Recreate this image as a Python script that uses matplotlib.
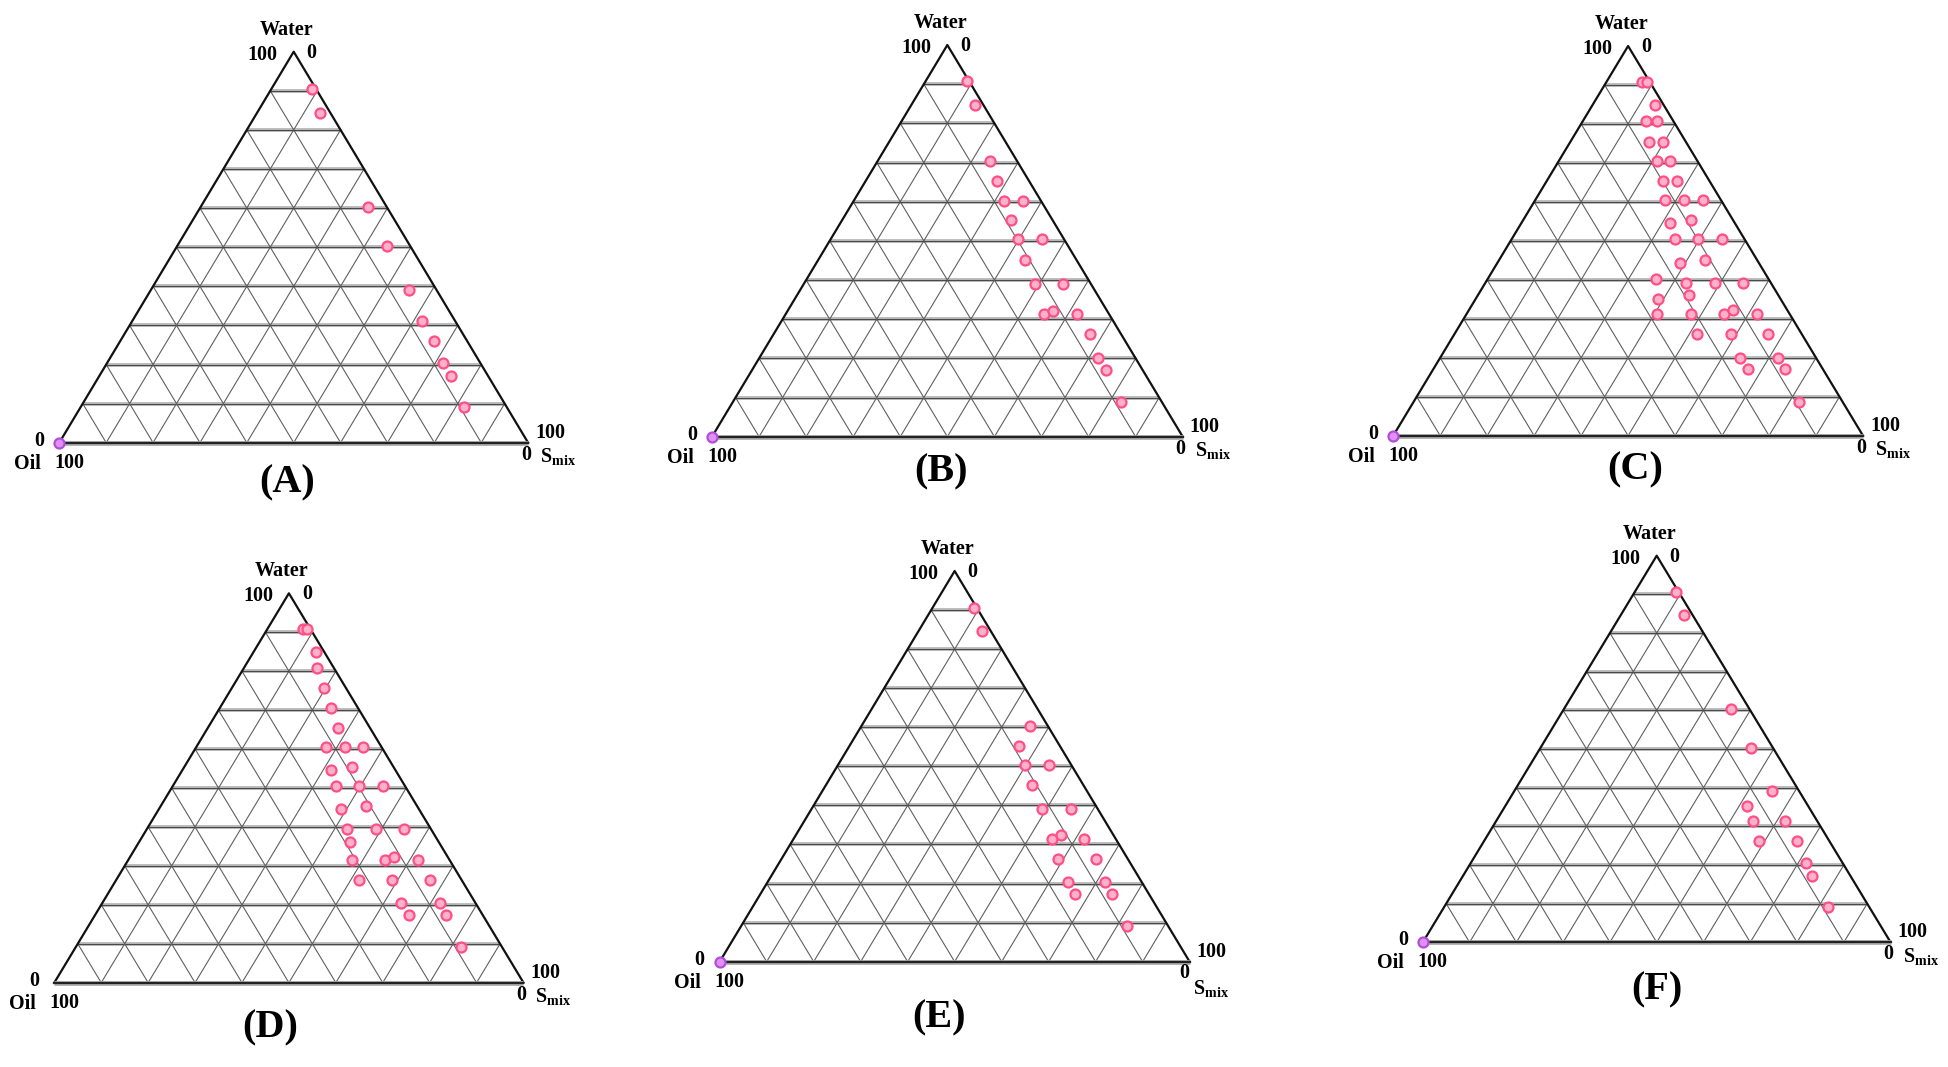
import numpy as np
import matplotlib.pyplot as plt

plt.rcParams['font.family'] = ['Liberation Serif', 'DejaVu Serif']
plt.rcParams['mathtext.fontset'] = 'custom'
plt.rcParams['mathtext.rm'] = 'Liberation Serif:bold'
plt.rcParams['mathtext.bf'] = 'Liberation Serif:bold'
plt.rcParams['mathtext.it'] = 'Liberation Serif:bold'

panel_names = ['(A)', '(B)', '(C)', '(D)', '(E)', '(F)']

# composition of each point in %, oil = 100 - water - smix
water_A = [90.4, 84.4, 60.4, 50.3, 39.0, 31.2, 26.1, 20.3, 17.1, 9.2]
smix_A = [8.7, 13.5, 35.7, 44.8, 55.0, 61.8, 66.8, 71.7, 74.9, 81.8]

water_B = [90.8, 84.6, 70.4, 65.4, 60.3, 60.3, 55.2, 50.4, 50.4, 45.2,
           39.1, 39.1, 31.2, 32.1, 31.2, 26.1, 20.0, 17.0, 8.8]
smix_B = [8.8, 13.6, 23.8, 27.9, 31.9, 35.9, 35.9, 39.8, 44.9, 44.0,
          49.1, 55.1, 55.0, 56.4, 61.9, 67.2, 72.1, 75.1, 82.4]

water_C = [90.8, 90.8, 84.8, 80.7, 80.7, 75.4, 75.4, 70.4, 70.4, 65.4,
           65.4, 60.4, 60.4, 60.4, 54.5, 55.3, 50.4, 50.4, 50.4, 44.3,
           45.2, 40.3, 39.3, 39.3, 39.3, 35.1, 36.2, 31.3, 31.3, 31.3,
           32.2, 31.3, 26.1, 26.1, 26.1, 20.0, 20.0, 17.1, 17.1, 8.7]
smix_C = [7.5, 8.6, 13.3, 13.5, 15.7, 16.7, 19.7, 20.9, 23.8, 24.7,
          27.8, 27.6, 31.7, 35.8, 31.6, 35.7, 34.7, 39.6, 44.7, 38.9,
          43.8, 35.8, 42.7, 48.9, 54.8, 38.9, 44.9, 40.6, 47.8, 54.7,
          56.2, 61.7, 51.7, 58.8, 66.8, 63.9, 71.9, 66.9, 74.9, 82.0]

water_D = [90.8, 90.8, 84.8, 80.8, 75.6, 70.6, 65.5, 60.5, 60.5, 60.5,
           54.7, 55.3, 50.5, 50.5, 50.5, 44.7, 45.4, 39.4, 39.4, 39.4,
           36.2, 31.4, 31.4, 32.3, 31.4, 26.3, 26.3, 26.3, 20.4, 20.4,
           17.3, 17.3, 9.2]
smix_D = [7.5, 8.5, 13.3, 15.5, 19.6, 23.7, 27.8, 27.6, 31.7, 35.6,
          31.6, 35.9, 34.7, 39.6, 44.8, 38.7, 43.8, 42.6, 48.8, 54.9,
          44.9, 47.8, 54.8, 56.2, 61.9, 51.7, 58.8, 67.0, 63.7, 72.0,
          66.9, 74.8, 82.1]

water_E = [90.6, 84.6, 60.4, 55.3, 50.3, 50.3, 45.2, 39.2, 39.2, 31.4,
           32.4, 31.4, 26.2, 26.2, 20.5, 20.5, 17.3, 17.3, 9.1]
smix_E = [8.8, 13.5, 35.8, 36.0, 39.8, 44.9, 43.9, 48.9, 55.1, 55.0,
          56.4, 61.9, 59.0, 67.0, 63.8, 71.8, 66.9, 74.9, 82.1]

water_F = [90.7, 84.7, 60.4, 50.3, 39.2, 35.3, 31.4, 31.4, 26.2, 26.2,
           20.4, 17.2, 9.2]
smix_F = [8.7, 13.5, 35.7, 45.0, 55.0, 51.7, 54.8, 61.8, 58.8, 66.8,
          71.8, 74.7, 82.0]

water_all = [water_A, water_B, water_C, water_D, water_E, water_F]
smix_all = [smix_A, smix_B, smix_C, smix_D, smix_E, smix_F]
# pure oil point at the oil corner
has_oil_point = [True, True, True, False, True, True]

W, H = 1949, 1067
# left vertex x, base y, width, height (pixels)
layout = [
    (59.3, 442.7, 468.8, 391.0),
    (712.0, 436.7, 470.7, 391.7),
    (1393.2, 435.7, 469.8, 389.7),
    (54.3, 982.7, 469.2, 389.4),
    (719.7, 961.7, 469.9, 390.7),
    (1422.8, 942.3, 467.8, 386.6),
]
name_offsets = [(-7, 40), (-6, 35), (7, 34), (-19, 45), (-16, 56), (0, 48)]
# offsets of the "0" and "Smix" labels at the S_mix corner
smix_offsets = [((-2, 12), (30, 14))] * 4 + [((-5, 11), (21, 27))] + [((-2, 12), (30, 14))]


def to_xy(water, smix):
    w = np.asarray(water) / 100.0
    s = np.asarray(smix) / 100.0
    return s + w / 2, w


def label(ax, x, y, dx, dy, s, size=14.5, weight='bold'):
    ax.annotate(s, xy=(x, y), xytext=(dx * 0.72, -dy * 0.72),
                textcoords='offset points', ha='center', va='center',
                fontsize=size, fontweight=weight, annotation_clip=False)


fig = plt.figure(figsize=(W / 100, H / 100), dpi=100)

for k in range(6):
    x0, yb, tw, th = layout[k]
    ax = fig.add_axes([x0 / W, 1 - yb / H, tw / W, th / H])
    ax.set_xlim(0, 1)
    ax.set_ylim(0, 1)
    ax.axis('off')

    # grid
    for i in range(1, 10):
        f = i / 10
        ax.plot([f / 2, 1 - f / 2], [f, f], color='#bcbcbc', lw=2.8,
                solid_capstyle='butt', zorder=1)
        ax.plot([f / 2, 1 - f / 2], [f, f], color='#4a4a4a', lw=0.8, zorder=2)
        ax.plot([f, f + (1 - f) / 2], [0, 1 - f], color='#606060', lw=0.8, zorder=2)
        ax.plot([1 - f, (1 - f) / 2], [0, 1 - f], color='#606060', lw=0.8, zorder=2)

    # outline
    ax.plot([0, 0.5, 1], [0, 1, 0], color='#111111', lw=1.6, zorder=3,
            clip_on=False)
    ax.plot([0, 1], [0, 0], color='#aaaaaa', lw=3.4, zorder=3, clip_on=False,
            solid_capstyle='butt')
    ax.plot([0, 1], [0, 0], color='#222222', lw=1.6, zorder=3, clip_on=False)

    px, py = to_xy(water_all[k], smix_all[k])
    ax.plot(px, py, 'o', ms=7.2, mfc='#ffb0cb', mec='#ff4f86', mew=1.6,
            zorder=5, clip_on=False)
    if has_oil_point[k]:
        ox, oy = to_xy([0], [0])
        ax.plot(ox, oy, 'o', ms=7.2, mfc='#e090f2', mec='#b04fd6', mew=1.6,
                zorder=5, clip_on=False)

    # corner labels
    label(ax, 0.5, 1, -7, -22, 'Water')
    label(ax, 0.5, 1, -31, 3, '100')
    label(ax, 0.5, 1, 18, 1, '0')
    label(ax, 0, 0, -20, -2, '0')
    label(ax, 0, 0, -32, 21, 'Oil')
    label(ax, 0, 0, 10, 20, '100')
    label(ax, 1, 0, 22, -10, '100')
    (zx, zy), (sx, sy) = smix_offsets[k]
    label(ax, 1, 0, zx, zy, '0')
    label(ax, 1, 0, sx, sy, r'$\mathbf{S_{mix}}$')

    dx, dy = name_offsets[k]
    label(ax, 0.5, 0, dx, dy, panel_names[k], size=29)

fig.savefig('out.png', dpi=100, facecolor='white')
